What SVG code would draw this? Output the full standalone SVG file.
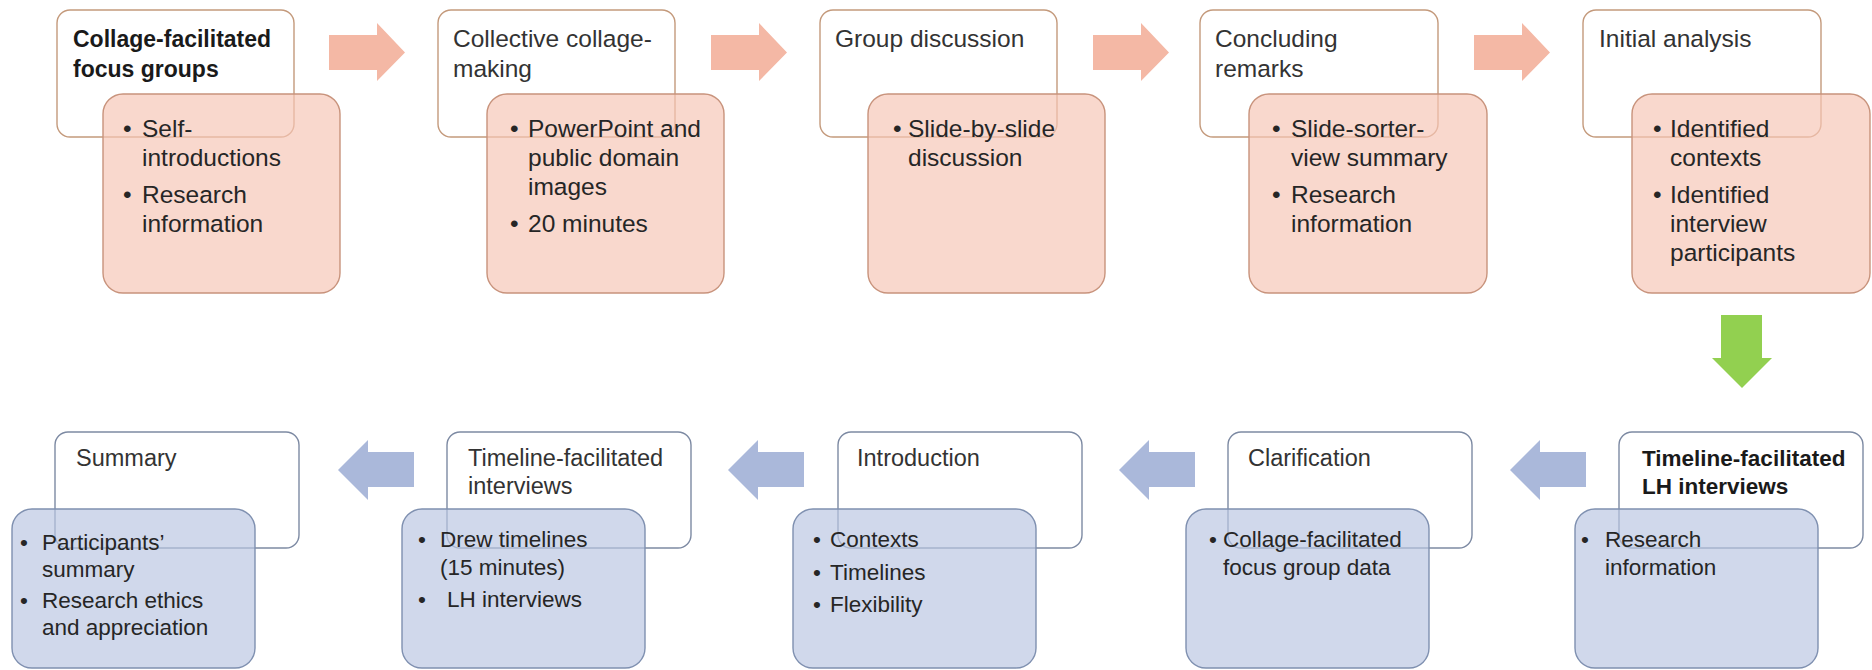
<svg xmlns="http://www.w3.org/2000/svg" width="1872" height="670" viewBox="0 0 1872 670">
<style>
.bg{fill:#ffffff}
.wt{fill:#ffffff;stroke:#c49a7c;stroke-width:1.4}
.wb{fill:#ffffff;stroke:#7d8aa3;stroke-width:1.4}
.pk{fill:#f6c6b5;fill-opacity:0.68;stroke:#c8937c;stroke-width:1.4}
.bl{fill:#b9c5e2;fill-opacity:0.68;stroke:#7f90b0;stroke-width:1.4}
.ap{fill:#f4b8a5}
.ab{fill:#aab8da}
.ag{fill:#92d050}
text{font-family:"Liberation Sans",Arial,sans-serif;fill:#262626}
.tt{font-size:24.5px;fill:#333333}
.ttb{font-size:23px;font-weight:bold;fill:#1a1a1a}
.tx{font-size:24.5px}
.bt{font-size:23.5px;fill:#333333}
.btb{font-size:22.5px;font-weight:bold;fill:#1a1a1a}
.bx{font-size:22.5px}
</style>
<rect class="bg" x="0" y="0" width="1872" height="670"/>
<g id="connectors">
<path class="ap" d="M329,35 H377 V23 L405,52.5 L377,81 V70 H329 Z"/>
<path class="ap" d="M711,35 H759 V23 L787,52.5 L759,81 V70 H711 Z"/>
<path class="ap" d="M1093,35 H1141 V23 L1169,52.5 L1141,81 V70 H1093 Z"/>
<path class="ap" d="M1474,35 H1522 V23 L1550,52.5 L1522,81 V70 H1474 Z"/>
<path class="ag" d="M1721,315 H1762 V358 H1772 L1742,388 L1712,358 H1721 Z"/>
<path class="ab" d="M338,470 L368,440 V452 H414 V487 H368 V500 Z"/>
<path class="ab" d="M728,470 L758,440 V452 H804 V487 H758 V500 Z"/>
<path class="ab" d="M1119,470 L1149,440 V452 H1195 V487 H1149 V500 Z"/>
<path class="ab" d="M1510,470 L1540,440 V452 H1586 V487 H1540 V500 Z"/>
</g>
<g id="n1">
<rect class="wt" x="57" y="10" width="237" height="127" rx="13"/>
<rect class="pk" x="103" y="94" width="237" height="199" rx="20"/>
<text class="ttb" x="73" y="47">Collage-facilitated</text>
<text class="ttb" x="73" y="77">focus groups</text>
<text class="tx" x="123" y="137">•</text><text class="tx" x="142" y="137">Self-</text>
<text class="tx" x="142" y="166">introductions</text>
<text class="tx" x="123" y="203">•</text><text class="tx" x="142" y="203">Research</text>
<text class="tx" x="142" y="232">information</text>
</g>
<g id="n2">
<rect class="wt" x="438" y="10" width="237" height="127" rx="13"/>
<rect class="pk" x="487" y="94" width="237" height="199" rx="20"/>
<text class="tt" x="453" y="47">Collective collage-</text>
<text class="tt" x="453" y="77">making</text>
<text class="tx" x="510" y="137">•</text><text class="tx" x="528" y="137">PowerPoint and</text>
<text class="tx" x="528" y="166">public domain</text>
<text class="tx" x="528" y="195">images</text>
<text class="tx" x="510" y="232">•</text><text class="tx" x="528" y="232">20 minutes</text>
</g>
<g id="n3">
<rect class="wt" x="820" y="10" width="237" height="127" rx="13"/>
<rect class="pk" x="868" y="94" width="237" height="199" rx="20"/>
<text class="tt" x="835" y="47">Group discussion</text>
<text class="tx" x="893" y="137">•</text><text class="tx" x="908" y="137">Slide-by-slide</text>
<text class="tx" x="908" y="166">discussion</text>
</g>
<g id="n4">
<rect class="wt" x="1200" y="10" width="238" height="127" rx="13"/>
<rect class="pk" x="1249" y="94" width="238" height="199" rx="20"/>
<text class="tt" x="1215" y="47">Concluding</text>
<text class="tt" x="1215" y="77">remarks</text>
<text class="tx" x="1272" y="137">•</text><text class="tx" x="1291" y="137">Slide-sorter-</text>
<text class="tx" x="1291" y="166">view summary</text>
<text class="tx" x="1272" y="203">•</text><text class="tx" x="1291" y="203">Research</text>
<text class="tx" x="1291" y="232">information</text>
</g>
<g id="n5">
<rect class="wt" x="1583" y="10" width="238" height="127" rx="13"/>
<rect class="pk" x="1632" y="94" width="238" height="199" rx="20"/>
<text class="tt" x="1599" y="47">Initial analysis</text>
<text class="tx" x="1653" y="137">•</text><text class="tx" x="1670" y="137">Identified</text>
<text class="tx" x="1670" y="166">contexts</text>
<text class="tx" x="1653" y="203">•</text><text class="tx" x="1670" y="203">Identified</text>
<text class="tx" x="1670" y="232">interview</text>
<text class="tx" x="1670" y="261">participants</text>
</g>
<g id="n6">
<rect class="wb" x="1619" y="432" width="244" height="116" rx="13"/>
<rect class="bl" x="1575" y="509" width="243" height="159" rx="20"/>
<text class="btb" x="1642" y="466">Timeline-facilitated</text>
<text class="btb" x="1642" y="494">LH interviews</text>
<text class="bx" x="1581" y="547">•</text><text class="bx" x="1605" y="547">Research</text>
<text class="bx" x="1605" y="575">information</text>
</g>
<g id="n7">
<rect class="wb" x="1228" y="432" width="244" height="116" rx="13"/>
<rect class="bl" x="1186" y="509" width="243" height="159" rx="20"/>
<text class="bt" x="1248" y="466">Clarification</text>
<text class="bx" x="1209" y="547">•</text><text class="bx" x="1223" y="547">Collage-facilitated</text>
<text class="bx" x="1223" y="575">focus group data</text>
</g>
<g id="n8">
<rect class="wb" x="838" y="432" width="244" height="116" rx="13"/>
<rect class="bl" x="793" y="509" width="243" height="159" rx="20"/>
<text class="bt" x="857" y="466">Introduction</text>
<text class="bx" x="813" y="547">•</text><text class="bx" x="830" y="547">Contexts</text>
<text class="bx" x="813" y="580">•</text><text class="bx" x="830" y="580">Timelines</text>
<text class="bx" x="813" y="612">•</text><text class="bx" x="830" y="612">Flexibility</text>
</g>
<g id="n9">
<rect class="wb" x="447" y="432" width="244" height="116" rx="13"/>
<rect class="bl" x="402" y="509" width="243" height="159" rx="20"/>
<text class="bt" x="468" y="466">Timeline-facilitated</text>
<text class="bt" x="468" y="494">interviews</text>
<text class="bx" x="418" y="547">•</text><text class="bx" x="440" y="547">Drew timelines</text>
<text class="bx" x="440" y="575">(15 minutes)</text>
<text class="bx" x="418" y="607">•</text><text class="bx" x="447" y="607">LH interviews</text>
</g>
<g id="n10">
<rect class="wb" x="55" y="432" width="244" height="116" rx="13"/>
<rect class="bl" x="12" y="509" width="243" height="159" rx="20"/>
<text class="bt" x="76" y="466">Summary</text>
<text class="bx" x="20" y="550">•</text><text class="bx" x="42" y="550">Participants’</text>
<text class="bx" x="42" y="577">summary</text>
<text class="bx" x="20" y="608">•</text><text class="bx" x="42" y="608">Research ethics</text>
<text class="bx" x="42" y="635">and appreciation</text>
</g>
</svg>
